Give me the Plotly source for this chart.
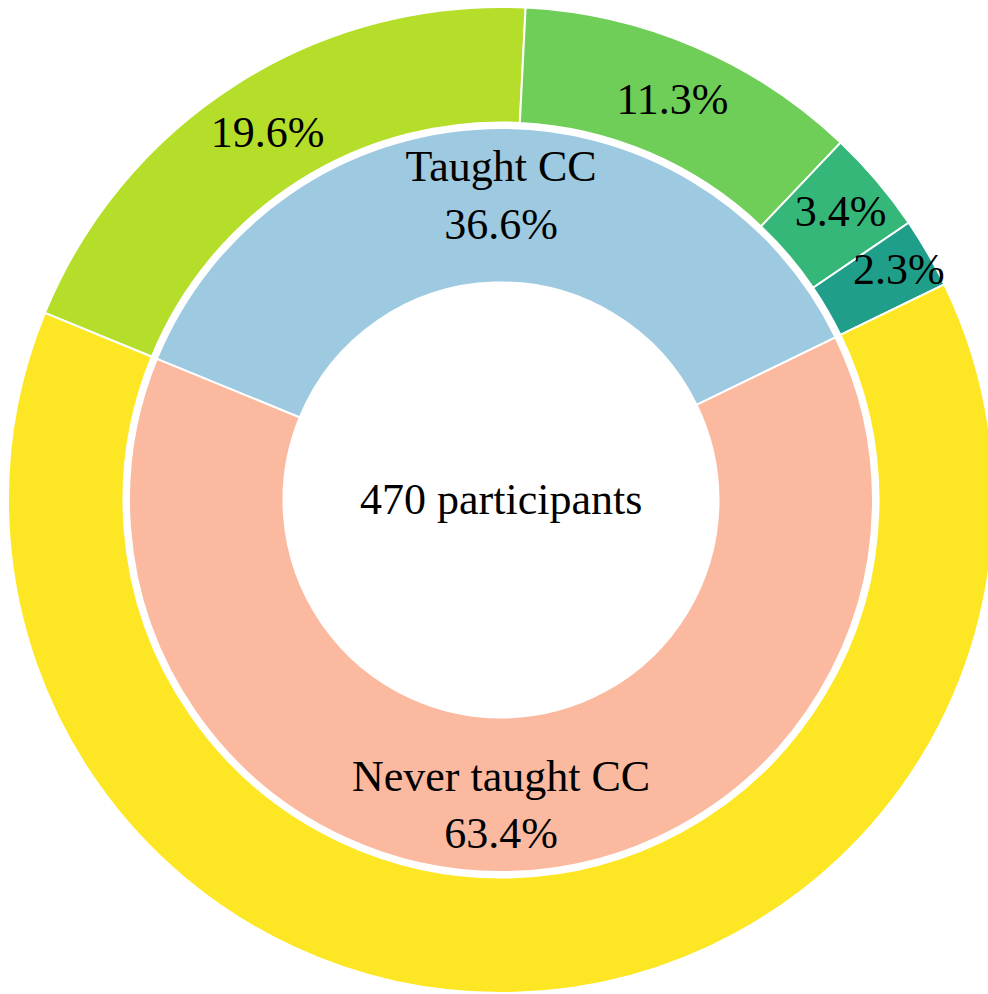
import plotly.graph_objects as go

# Outer ring (breakdown)
outer_labels = ["Group A", "Group B", "Group C", "Group D", "Never taught CC"]
outer_values = [19.6, 11.3, 3.4, 2.3, 63.4]
outer_text = ["19.6%", "11.3%", "3.4%", "2.3%", ""]
outer_colors = ["#b5de2b", "#6ece58", "#35b779", "#1f9e89", "#fde725"]

# Inner ring
inner_labels = ["Taught CC", "Never taught CC"]
inner_values = [36.6, 63.4]
inner_text = ["<span style='font-size:1px'>\u00a0</span><br>Taught CC<br>36.6%<br>"
              "<span style='font-size:1px'>\u00a0</span>",
              "<span style='font-size:28px'>\u00a0</span><br>Never taught CC<br>63.4%"]
inner_colors = ["#9ecae1", "#fbb9a0"]

center_label = "470 participants"

W, H = 994, 994
cx, cy = 501.0, 500.0
r_out, r_in = 493.0, 372.0

FONT = "Liberation Serif"
FS = 44

def dom(r):
    return dict(x=[max(0.0, (cx - r) / W), min(1.0, (cx + r) / W)],
                y=[max(0.0, (H - (cy + r)) / H), min(1.0, (H - (cy - r)) / H)])

fig = go.Figure()
fig.add_trace(go.Pie(
    labels=outer_labels, values=outer_values, text=outer_text,
    texttemplate="%{text}", textposition="inside", insidetextorientation="horizontal",
    hole=377.5 / r_out, sort=False, direction="clockwise", rotation=-67.7,
    marker=dict(colors=outer_colors, line=dict(color="white", width=2)),
    textfont=dict(family=FONT, size=FS, color="black"),
    domain=dom(r_out), showlegend=False,
))
fig.add_trace(go.Pie(
    labels=inner_labels, values=inner_values, text=inner_text,
    texttemplate="%{text}", textposition="inside", insidetextorientation="horizontal",
    hole=217.5 / r_in, sort=False, direction="clockwise", rotation=-67.7,
    marker=dict(colors=inner_colors, line=dict(color="white", width=2)),
    textfont=dict(family=FONT, size=FS, color="black"),
    domain=dom(r_in), showlegend=False,
))
fig.add_annotation(x=cx / W, y=(H - cy) / H, xref="paper", yref="paper",
                   text=center_label, showarrow=False,
                   font=dict(family=FONT, size=FS, color="black"),
                   xanchor="center", yanchor="middle")
fig.update_layout(width=W, height=H, margin=dict(l=0, r=0, t=0, b=0),
                  paper_bgcolor="white", plot_bgcolor="white",
                  uniformtext=dict(minsize=FS, mode="show"))
fig.write_html(
    "out.html",
    config={"displayModeBar": False},
    post_script=("document.body.style.margin='0';"
                 "document.body.style.overflow='hidden';"
                 "document.documentElement.style.overflow='hidden';"),
)
